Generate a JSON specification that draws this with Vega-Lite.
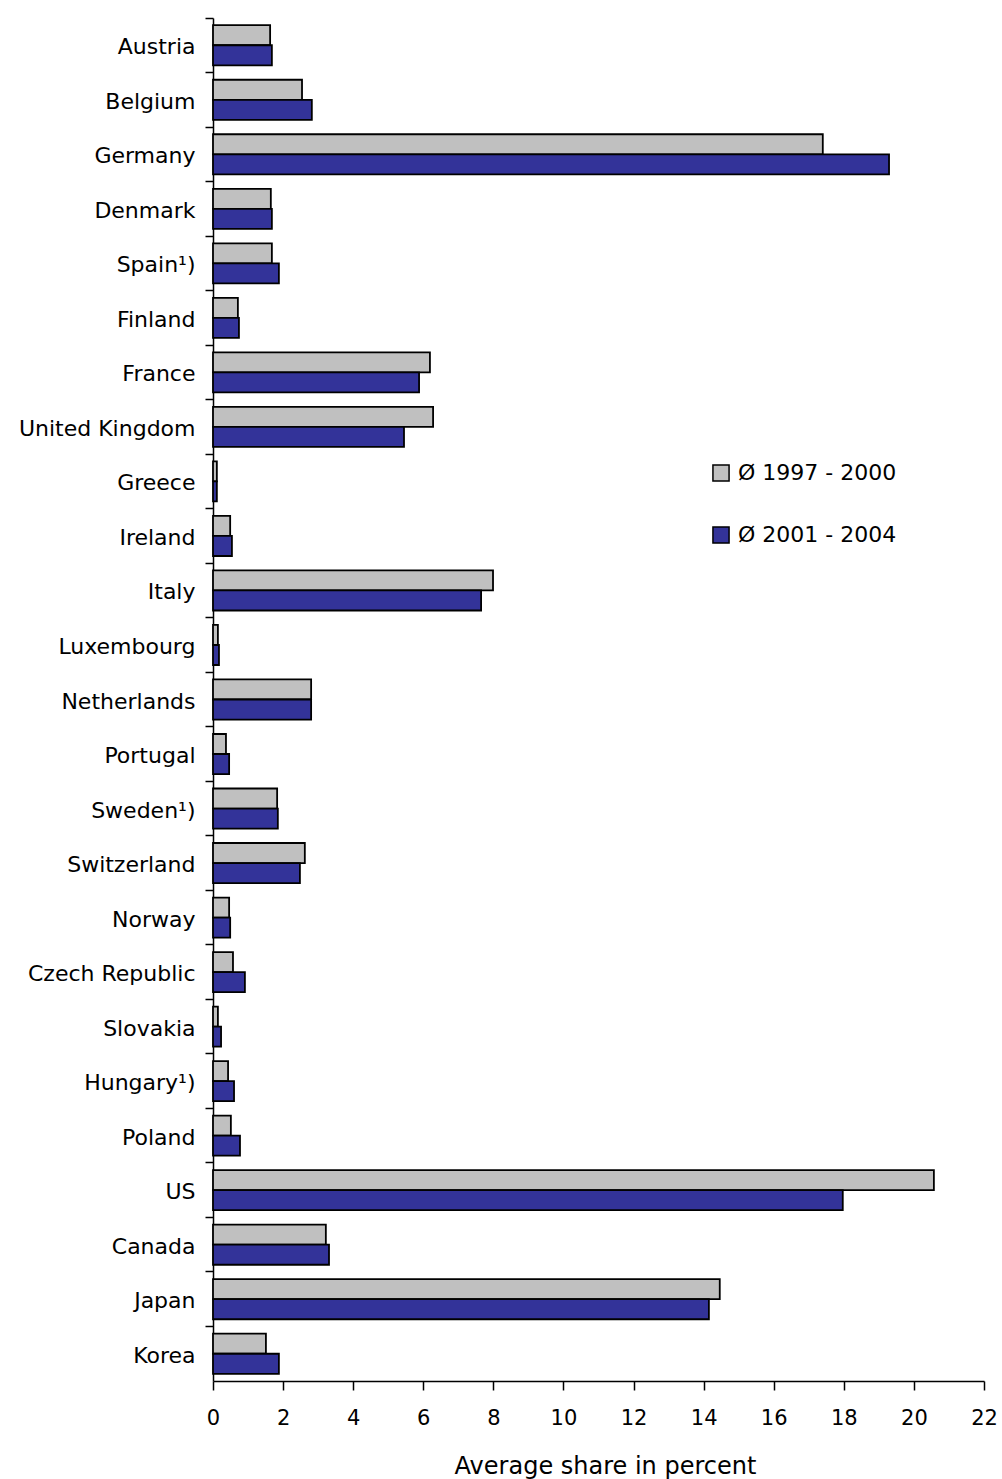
{
  "$schema": "https://vega.github.io/schema/vega-lite/v6.json",
  "autosize": {"type": "none"},
  "padding": {"left": 213, "top": 18, "right": 18, "bottom": 98},
  "width": 771,
  "height": 1363,
  "background": "white",
  "config": {
    "view": {"stroke": null},
    "font": "DejaVu Sans",
    "axis": {"grid": false, "domainColor": "black", "tickColor": "black", "labelColor": "black", "titleColor": "black", "domainWidth": 1.5, "tickWidth": 1.5}
  },
  "data": {
    "values": [
      {"country": "Austria", "period": "Ø 1997 - 2000", "value": 1.63},
      {"country": "Austria", "period": "Ø 2001 - 2004", "value": 1.68},
      {"country": "Belgium", "period": "Ø 1997 - 2000", "value": 2.54},
      {"country": "Belgium", "period": "Ø 2001 - 2004", "value": 2.82},
      {"country": "Germany", "period": "Ø 1997 - 2000", "value": 17.4},
      {"country": "Germany", "period": "Ø 2001 - 2004", "value": 19.29},
      {"country": "Denmark", "period": "Ø 1997 - 2000", "value": 1.65},
      {"country": "Denmark", "period": "Ø 2001 - 2004", "value": 1.68},
      {"country": "Spain¹)", "period": "Ø 1997 - 2000", "value": 1.68},
      {"country": "Spain¹)", "period": "Ø 2001 - 2004", "value": 1.88},
      {"country": "Finland", "period": "Ø 1997 - 2000", "value": 0.71},
      {"country": "Finland", "period": "Ø 2001 - 2004", "value": 0.74},
      {"country": "France", "period": "Ø 1997 - 2000", "value": 6.19},
      {"country": "France", "period": "Ø 2001 - 2004", "value": 5.88},
      {"country": "United Kingdom", "period": "Ø 1997 - 2000", "value": 6.28},
      {"country": "United Kingdom", "period": "Ø 2001 - 2004", "value": 5.45},
      {"country": "Greece", "period": "Ø 1997 - 2000", "value": 0.11},
      {"country": "Greece", "period": "Ø 2001 - 2004", "value": 0.11},
      {"country": "Ireland", "period": "Ø 1997 - 2000", "value": 0.49},
      {"country": "Ireland", "period": "Ø 2001 - 2004", "value": 0.54},
      {"country": "Italy", "period": "Ø 1997 - 2000", "value": 7.99},
      {"country": "Italy", "period": "Ø 2001 - 2004", "value": 7.65},
      {"country": "Luxembourg", "period": "Ø 1997 - 2000", "value": 0.14},
      {"country": "Luxembourg", "period": "Ø 2001 - 2004", "value": 0.17},
      {"country": "Netherlands", "period": "Ø 1997 - 2000", "value": 2.8},
      {"country": "Netherlands", "period": "Ø 2001 - 2004", "value": 2.8},
      {"country": "Portugal", "period": "Ø 1997 - 2000", "value": 0.37},
      {"country": "Portugal", "period": "Ø 2001 - 2004", "value": 0.46},
      {"country": "Sweden¹)", "period": "Ø 1997 - 2000", "value": 1.83},
      {"country": "Sweden¹)", "period": "Ø 2001 - 2004", "value": 1.85},
      {"country": "Switzerland", "period": "Ø 1997 - 2000", "value": 2.62},
      {"country": "Switzerland", "period": "Ø 2001 - 2004", "value": 2.48},
      {"country": "Norway", "period": "Ø 1997 - 2000", "value": 0.46},
      {"country": "Norway", "period": "Ø 2001 - 2004", "value": 0.49},
      {"country": "Czech Republic", "period": "Ø 1997 - 2000", "value": 0.57},
      {"country": "Czech Republic", "period": "Ø 2001 - 2004", "value": 0.91},
      {"country": "Slovakia", "period": "Ø 1997 - 2000", "value": 0.14},
      {"country": "Slovakia", "period": "Ø 2001 - 2004", "value": 0.23},
      {"country": "Hungary¹)", "period": "Ø 1997 - 2000", "value": 0.43},
      {"country": "Hungary¹)", "period": "Ø 2001 - 2004", "value": 0.6},
      {"country": "Poland", "period": "Ø 1997 - 2000", "value": 0.51},
      {"country": "Poland", "period": "Ø 2001 - 2004", "value": 0.77},
      {"country": "US", "period": "Ø 1997 - 2000", "value": 20.57},
      {"country": "US", "period": "Ø 2001 - 2004", "value": 17.97},
      {"country": "Canada", "period": "Ø 1997 - 2000", "value": 3.22},
      {"country": "Canada", "period": "Ø 2001 - 2004", "value": 3.31},
      {"country": "Japan", "period": "Ø 1997 - 2000", "value": 14.46},
      {"country": "Japan", "period": "Ø 2001 - 2004", "value": 14.15},
      {"country": "Korea", "period": "Ø 1997 - 2000", "value": 1.51},
      {"country": "Korea", "period": "Ø 2001 - 2004", "value": 1.88}
    ]
  },
  "mark": {"type": "bar", "stroke": "black", "strokeWidth": 1.8},
  "encoding": {
    "y": {
      "field": "country",
      "type": "nominal",
      "sort": null,
      "scale": {"paddingInner": 0, "paddingOuter": 0},
      "axis": {
        "title": null,
        "bandPosition": 0,
        "tickSize": 8,
        "labelPadding": 10,
        "labelOffset": 2,
        "labelFontSize": 22
      }
    },
    "yOffset": {
      "field": "period",
      "type": "nominal",
      "sort": ["Ø 1997 - 2000", "Ø 2001 - 2004"],
      "scale": {"paddingOuter": 0.36, "paddingInner": 0}
    },
    "x": {
      "field": "value",
      "type": "quantitative",
      "scale": {"domain": [0, 22], "nice": false},
      "axis": {
        "title": "Average share in percent",
        "values": [0, 2, 4, 6, 8, 10, 12, 14, 16, 18, 20, 22],
        "tickSize": 9,
        "labelFlush": false,
        "labelPadding": 17,
        "labelFontSize": 21,
        "titleFontSize": 24,
        "titleFontWeight": "normal",
        "titlePadding": 26,
        "titleX": 392
      }
    },
    "fill": {
      "field": "period",
      "type": "nominal",
      "scale": {"domain": ["Ø 1997 - 2000", "Ø 2001 - 2004"], "range": ["#C0C0C0", "#333399"]},
      "legend": {
        "title": null,
        "orient": "none",
        "legendX": 497,
        "legendY": 444,
        "symbolType": "square",
        "symbolSize": 260,
        "symbolStrokeColor": "black",
        "symbolStrokeWidth": 1.5,
        "symbolOpacity": 1,
        "labelFontSize": 22,
        "labelColor": "black",
        "labelOffset": 6,
        "rowPadding": 38,
        "labelLimit": 300
      }
    }
  }
}
